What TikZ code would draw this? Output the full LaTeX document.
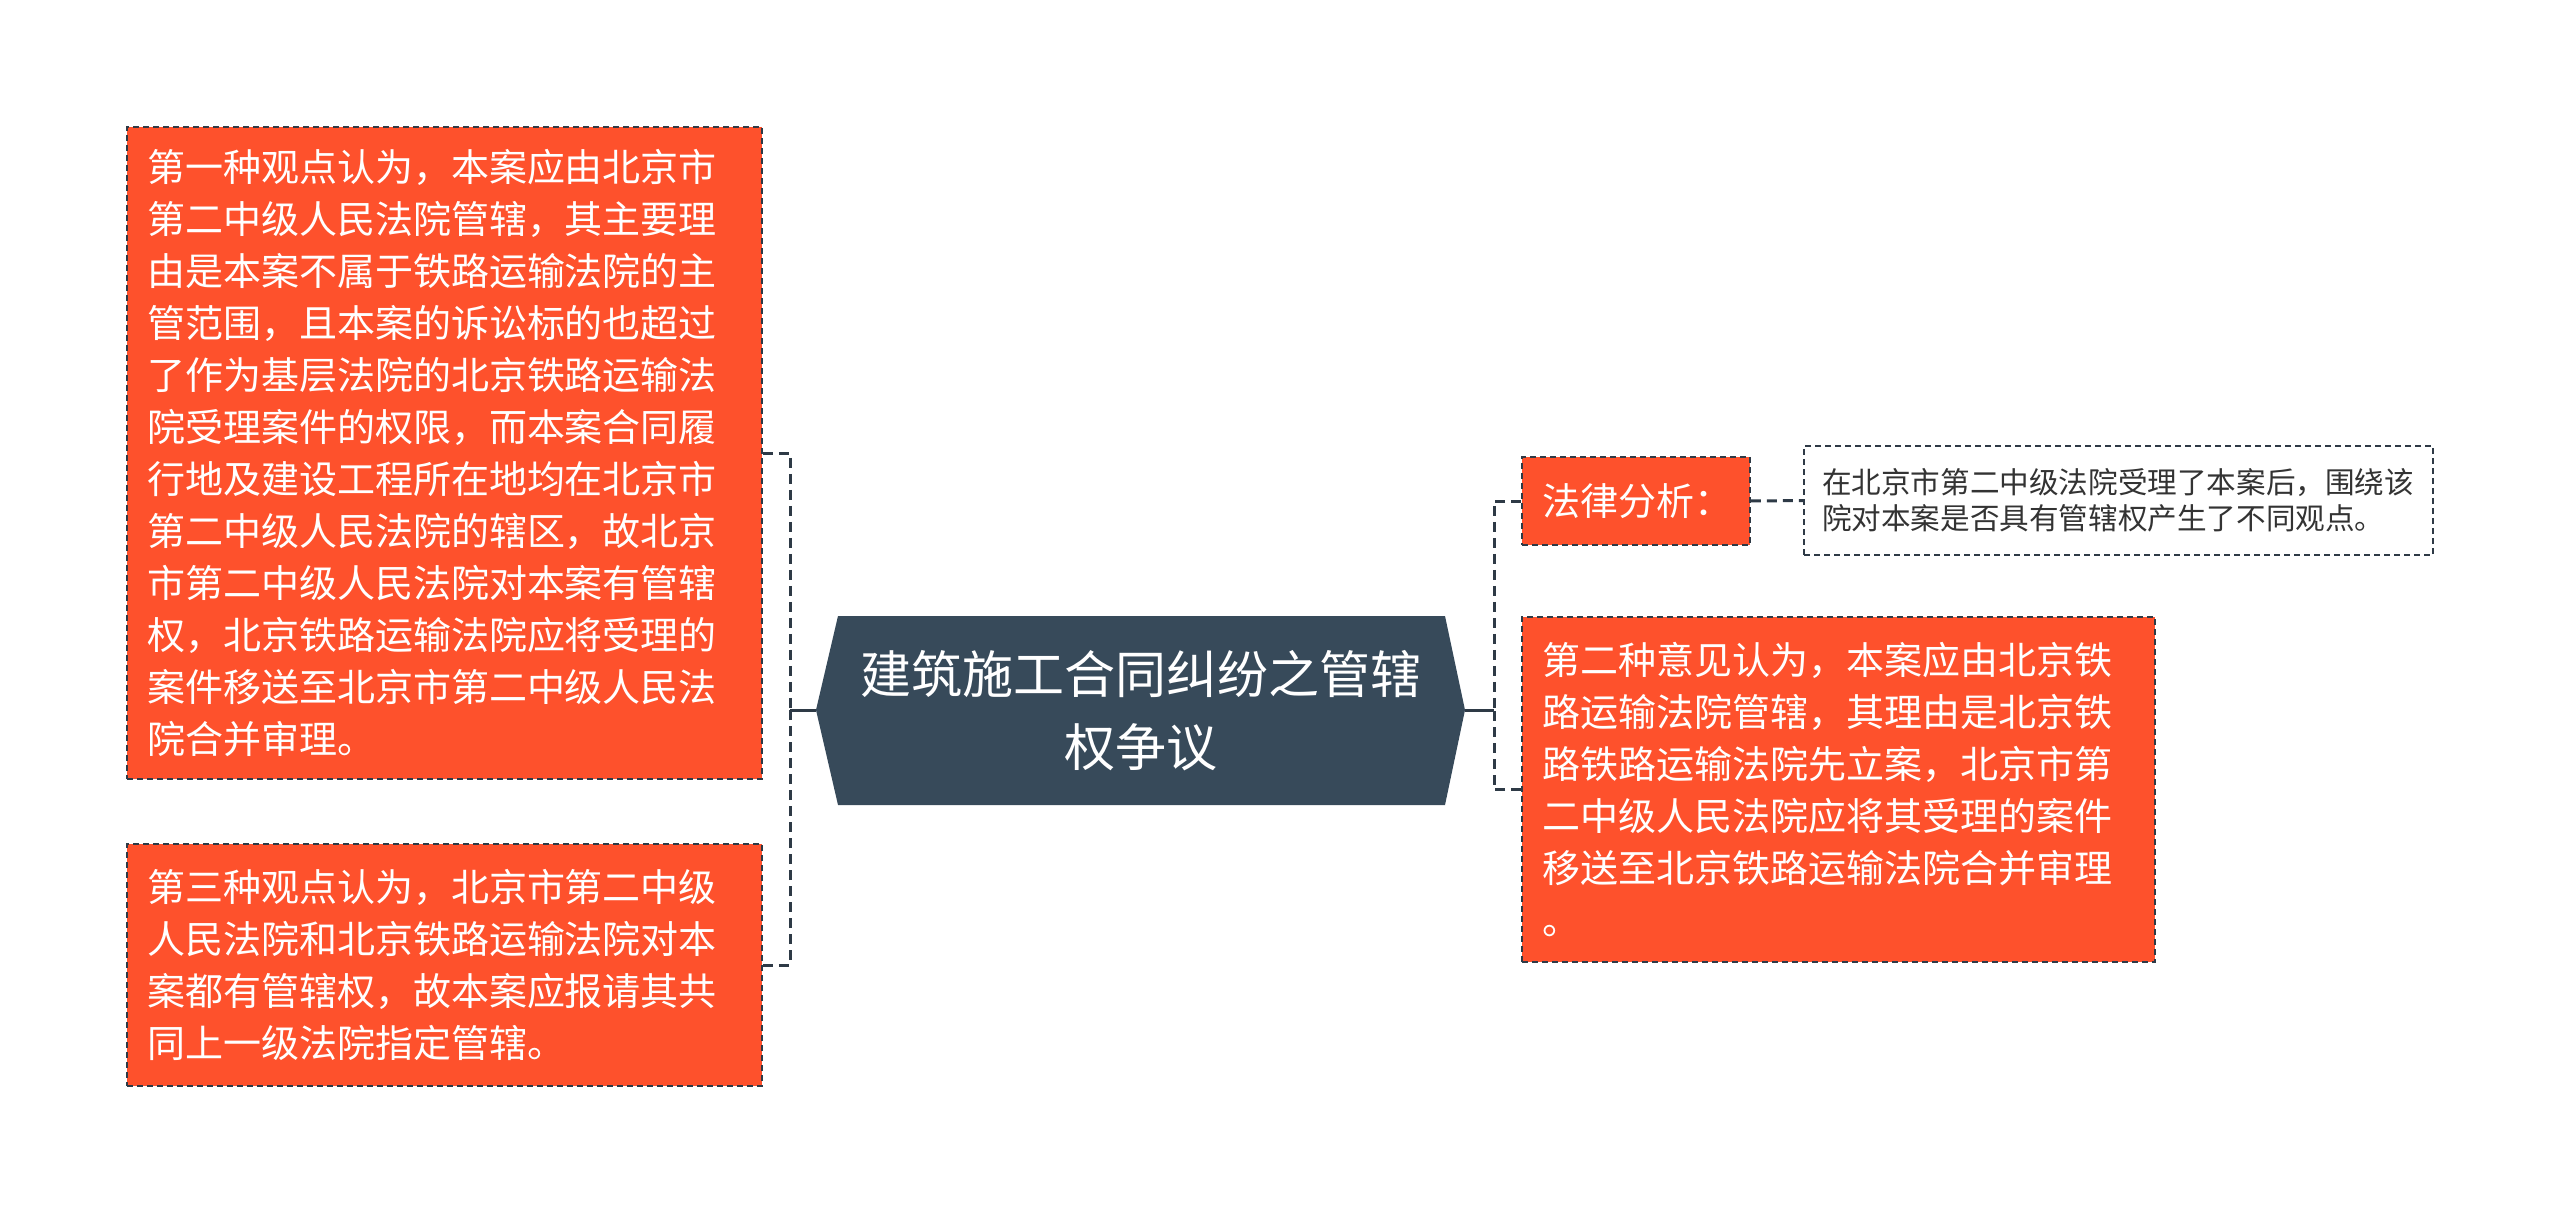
\documentclass[tikz,border=0pt]{standalone}
\usepackage{fontspec}
\setmainfont{Noto Sans CJK SC}
\definecolor{oran}{HTML}{FE512C}
\definecolor{rootc}{HTML}{374A5A}
\definecolor{linec}{HTML}{2E3A46}
\definecolor{txtc}{HTML}{333333}
\begin{document}
\begin{tikzpicture}[x=0.5pt,y=-0.5pt,
  obox/.style={fill=oran, draw=linec, line width=0.8pt, dash pattern=on 3pt off 2pt,
    text=white, inner xsep=10pt, inner ysep=0pt, align=left,
    font=\fontsize{19}{26}\selectfont},
  wbox/.style={fill=white, draw=linec, line width=0.8pt, dash pattern=on 3pt off 2pt,
    text=txtc, inner xsep=9pt, inner ysep=0pt, align=left,
    font=\fontsize{14.8}{18}\selectfont},
  link/.style={draw=linec, line width=1.5pt},
  dlink/.style={draw=linec, line width=1.5pt, dash pattern=on 5pt off 3pt}]
\useasboundingbox (0,0) rectangle (2560,1214);
% central topic
\fill[rootc] (816,710) -- (838,616) -- (1445,616) -- (1465,710) -- (1445,805) -- (838,805) -- cycle;
\coordinate (rootW) at (816,710);
\coordinate (rootE) at (1465,710);
\node[text=white, align=center, font=\fontsize{25.5}{36.5}\selectfont] (root) at (1140.5,711) {建筑施工合同纠纷之管辖\\权争议};
% left boxes
\node[obox, text width=297.5pt, minimum height=326pt] (v1) at (444.5,453) {第一种观点认为，本案应由北京市\\第二中级人民法院管辖，其主要理\\由是本案不属于铁路运输法院的主\\管范围，且本案的诉讼标的也超过\\了作为基层法院的北京铁路运输法\\院受理案件的权限，而本案合同履\\行地及建设工程所在地均在北京市\\第二中级人民法院的辖区，故北京\\市第二中级人民法院对本案有管辖\\权，北京铁路运输法院应将受理的\\案件移送至北京市第二中级人民法\\院合并审理。};
\node[obox, text width=297.5pt, minimum height=121pt] (v3) at (444.5,965) {第三种观点认为，北京市第二中级\\人民法院和北京铁路运输法院对本\\案都有管辖权，故本案应报请其共\\同上一级法院指定管辖。};
% right boxes
\node[obox, text width=94pt, minimum height=44pt] (legal) at (1636,501) {法律分析：};
\node[wbox, text width=296.5pt, minimum height=54.5pt] (note) at (2118.5,500.5) {在北京市第二中级法院受理了本案后，围绕该\\院对本案是否具有管辖权产生了不同观点。};
\node[obox, text width=296.5pt, minimum height=172.5pt] (op2) at (1838.5,789.5) {第二种意见认为，本案应由北京铁\\路运输法院管辖，其理由是北京铁\\路铁路运输法院先立案，北京市第\\二中级人民法院应将其受理的案件\\移送至北京铁路运输法院合并审理\\。};
% connectors
\coordinate (jl) at (790,710);
\coordinate (jr) at (1494,710);
\draw[link] (rootW) -- (jl);
\draw[dlink] (v1.east) -| (jl);
\draw[dlink] (v3.east) -| (jl);
\draw[link] (rootE) -- (jr);
\draw[dlink] (legal.west) -| (jr);
\draw[dlink] (op2.west) -| (jr);
\draw[dlink] (legal.east) -- (note.west);
\end{tikzpicture}
\end{document}
